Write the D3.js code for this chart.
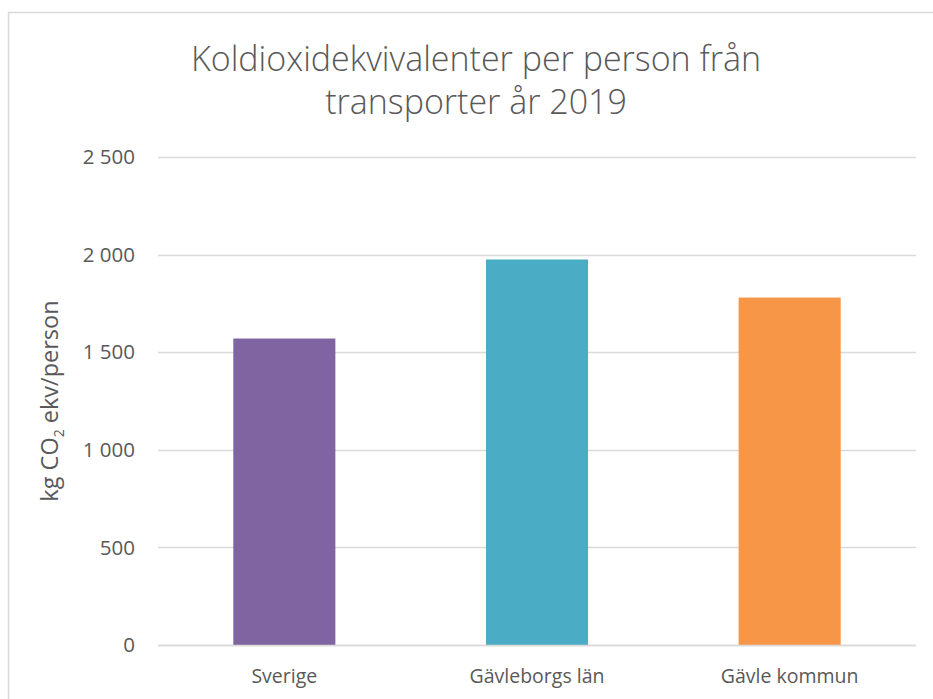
<!DOCTYPE html>
<html>
<head>
<meta charset="utf-8">
<script src="https://cdn.jsdelivr.net/npm/d3@7"></script>
<style>
  body { margin: 0; background: #fff; }
  text { font-family: "Open Sans", sans-serif; fill: #595959; }
</style>
</head>
<body>
<svg id="chart"></svg>
<script>
const width = 933;
const height = 699;

// data
const categories = ["Sverige", "Gävleborgs län", "Gävle kommun"];
const values = [1570, 1975, 1780];
const barColors = ["#8064A2", "#4BACC6", "#F79646"];
const yTicks = [0, 500, 1000, 1500, 2000, 2500];
const titleLines = ["Koldioxidekvivalenter per person från", "transporter år 2019"];

const margin = {top: 157, right: 17, bottom: 54, left: 158};

const svg = d3.select("#chart")
    .attr("width", width)
    .attr("height", height);

// outer chart border (only top and left show in the crop)
svg.append("rect")
    .attr("x", 8.5)
    .attr("y", 12.5)
    .attr("width", width)
    .attr("height", height)
    .attr("fill", "none")
    .attr("stroke", "#d9d9d9")
    .attr("stroke-width", 1.5);

const x = d3.scaleBand()
    .domain(categories)
    .range([margin.left, width - margin.right])
    .paddingInner(0.596)
    .paddingOuter(0.298);

const y = d3.scaleLinear()
    .domain([0, 2500])
    .range([height - margin.bottom, margin.top]);

const fmt = function(d){ return d3.format(",")(d).replace(",", " "); };

// gridlines
svg.append("g")
    .selectAll("line")
    .data(yTicks)
    .enter()
    .append("line")
        .attr("x1", margin.left)
        .attr("x2", width - margin.right)
        .attr("y1", function(d){ return Math.round(y(d)) + 0.5; })
        .attr("y2", function(d){ return Math.round(y(d)) + 0.5; })
        .attr("stroke", "#d9d9d9")
        .attr("stroke-width", 1.3);

// y tick labels
svg.append("g")
    .selectAll("text")
    .data(yTicks)
    .enter()
    .append("text")
        .attr("x", 135)
        .attr("y", function(d){ return y(d); })
        .attr("dy", "0.35em")
        .attr("text-anchor", "end")
        .attr("font-size", 20.5)
        .text(fmt);

// bars
svg.append("g")
    .selectAll("rect")
    .data(values)
    .enter()
    .append("rect")
        .attr("x", function(d, i){ return x(categories[i]); })
        .attr("y", function(d){ return y(d); })
        .attr("width", x.bandwidth())
        .attr("height", function(d){ return y(0) - y(d); })
        .attr("fill", function(d, i){ return barColors[i]; });

// baseline drawn over bars
svg.append("line")
    .attr("x1", margin.left)
    .attr("x2", width - margin.right)
    .attr("y1", y(0) + 0.5)
    .attr("y2", y(0) + 0.5)
    .attr("stroke", "#d9d9d9")
    .attr("stroke-width", 1.5);

// category labels
svg.append("g")
    .selectAll("text")
    .data(categories)
    .enter()
    .append("text")
        .attr("x", function(d){ return x(d) + x.bandwidth() / 2; })
        .attr("y", 683)
        .attr("text-anchor", "middle")
        .attr("font-size", 19.5)
        .text(function(d){ return d; });

// axis title with subscript 2
const yLabel = svg.append("text")
    .attr("transform", `translate(58, ${(y(0) + y(2500)) / 2}) rotate(-90)`)
    .attr("text-anchor", "middle")
    .attr("font-size", 23.5);
yLabel.append("tspan").text("kg CO");
yLabel.append("tspan").attr("font-size", 14).attr("dy", 6).text("2");
yLabel.append("tspan").attr("dy", -6).text(" ekv/person");

// title
svg.append("g")
    .selectAll("text")
    .data(titleLines)
    .enter()
    .append("text")
        .attr("x", 476)
        .attr("y", function(d, i){ return 71 + i * 43; })
        .attr("text-anchor", "middle")
        .attr("font-size", 34)
        .attr("font-weight", 300)
        .text(function(d){ return d; });
</script>
</body>
</html>
